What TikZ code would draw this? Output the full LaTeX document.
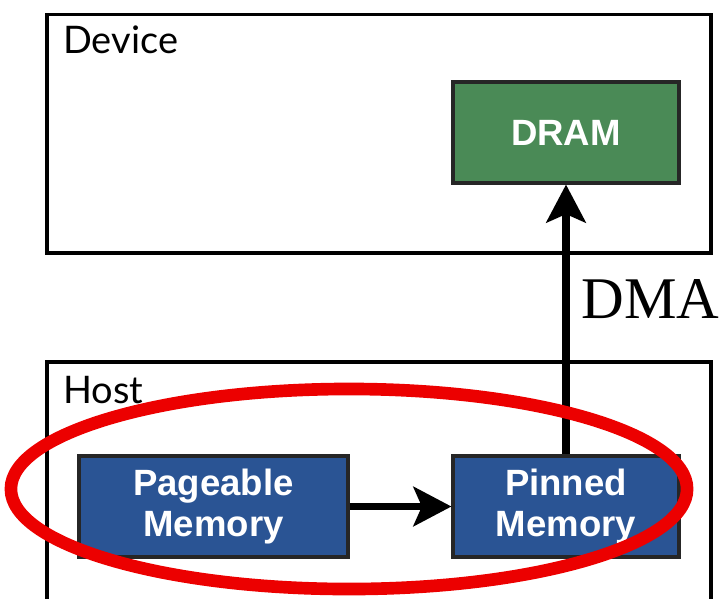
\documentclass[tikz,border=0pt]{standalone}
\usepackage{fontspec}
\setmainfont{Liberation Serif}
\setsansfont{Liberation Sans}
\newfontfamily\labelfont{Lato}
\usepackage{xcolor}
\usetikzlibrary{positioning,arrows.meta}
\definecolor{dramgreen}{RGB}{74,138,86}
\definecolor{memblue}{RGB}{42,84,148}
\definecolor{ringred}{RGB}{236,0,0}

\begin{document}
\begin{tikzpicture}[x=0.025cm, y=-0.025cm,
  frame/.style={draw=black, line width=2.8pt, inner sep=0pt},
  mem/.style={draw=black!85, line width=2.2pt, inner sep=0pt, text=white, align=center,
    font=\sffamily\bfseries\fontsize{26}{28.5}\selectfont},
  flow/.style={line width=5pt, -{Stealth[length=27pt, width=28pt, inset=6pt]}}]
  \useasboundingbox (0,0) rectangle (727,598);
  % outer boxes
  \node[frame, minimum width=16.6cm, minimum height=5.95cm] (device) at (379,133.5) {};
  \node[frame, minimum width=16.6cm, minimum height=7cm] (host) at (379,502) {};
  \node[anchor=base west, inner sep=0pt, font=\labelfont\fontsize{27}{32}\selectfont] (devlabel) at (63,53) {Device};
  \node[anchor=base west, inner sep=0pt, font=\labelfont\fontsize{27}{32}\selectfont] (hostlabel) at (63,403) {Host};
  % memories
  \node[mem, fill=dramgreen, minimum width=5.65cm, minimum height=2.525cm] (dram) at (566,132.5) {DRAM};
  \node[mem, fill=memblue, minimum width=6.725cm, minimum height=2.525cm] (pageable) at (213.5,506.5) {Pageable\\Memory};
  \node[mem, fill=memblue, minimum width=5.65cm, minimum height=2.525cm] (pinned) at (566,506.5) {Pinned\\Memory};
  % transfers
  \draw[flow] (pageable) -- (pinned);
  \draw[flow] (pinned.north) -- node[pos=0.505, anchor=base west, inner sep=0pt, xshift=0.3cm, font=\fontsize{42}{48}\selectfont] {DMA} (dram.south);
  % highlight
  \draw[ringred, line width=9pt] (349,489) ellipse [x radius=8.45cm, y radius=2.5cm];
\end{tikzpicture}
\end{document}
